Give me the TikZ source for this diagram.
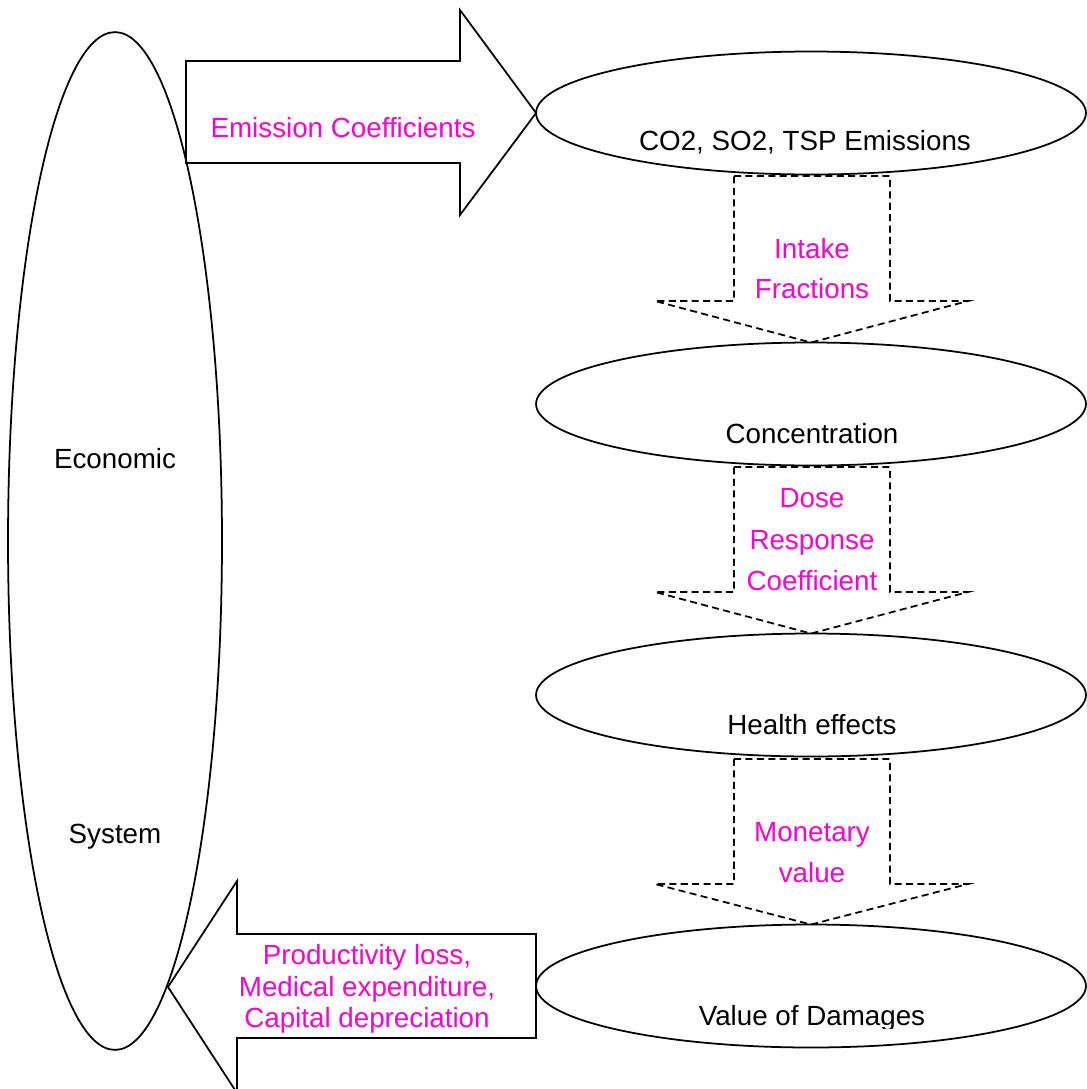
\documentclass[tikz,border=0pt]{standalone}
\usepackage{fontspec}
\setmainfont{Liberation Sans}
\usetikzlibrary{shapes.geometric}
\definecolor{mag}{RGB}{255,0,204}
\begin{document}
\begin{tikzpicture}[x=0.02cm,y=-0.02cm,
  every node/.style={inner sep=0pt,outer sep=0pt},
  txt/.style={font=\fontsize{15.8}{19}\selectfont,anchor=base},
  lbl/.style={txt,text=mag},
  ell/.style={draw,ellipse,line width=1pt,minimum width=11cm,minimum height=2.46cm},
  solidarrow/.style={draw,line width=1pt,line join=miter},
  dasharrow/.style={draw,line width=1pt,dash pattern=on 4pt off 2.5pt,line join=miter}]
\useasboundingbox (0,0) rectangle (1086,1089);

% big left ellipse
\node[ell,minimum width=4.28cm,minimum height=20.36cm] (econ) at (115,541) {};
\node[txt] (economic) at (115,468) {Economic};
\node[txt] (system) at (115,843) {System};

% right ellipses
\node[ell] (e1) at (811,113) {};
\node[ell] (e2) at (811,404) {};
\node[ell] (e3) at (811,695) {};
\node[ell] (e4) at (811,986) {};

\node[txt] (t1) at (805,150) {CO2, SO2, TSP Emissions};
\node[txt] (t2) at (812,443) {Concentration};
\node[txt] (t3) at (812,734) {Health effects};
\begin{scope}
  \clip (600,985) rectangle (1020,1028);
  \node[txt] (t4) at (812,1025) {Value of Damages};
\end{scope}

% top block arrow
\draw[solidarrow] (186,61) -- (460,61) -- (460,10) -- (e1.west) -- (460,215) -- (460,163) -- (186,163) -- cycle;
\node[lbl] (emis) at (343,137) {Emission Coefficients};

% bottom block arrow
\draw[solidarrow] (e4.west |- 0,934) -- (237,934) -- (237,881) -- (168,987) -- (237,1093) -- (237,1038) -- (e4.west |- 0,1038) -- cycle;
\node[lbl] (p1) at (367,964) {Productivity loss,};
\node[lbl] (p2) at (367,996) {Medical expenditure,};
\node[lbl] (p3) at (367,1027) {Capital depreciation};

% dashed down arrows
\draw[dasharrow] (734,176) -- (890,176) -- (890,301) -- (968,301) -- (e2.north) -- (655,301) -- (734,301) -- cycle;
\node[lbl] (i1) at (812,258) {Intake};
\node[lbl] (i2) at (812,298) {Fractions};

\draw[dasharrow] (734,467) -- (890,467) -- (890,592) -- (968,592) -- (e3.north) -- (655,592) -- (734,592) -- cycle;
\node[lbl] (d1) at (812,507) {Dose};
\node[lbl] (d2) at (812,549) {Response};
\node[lbl] (d3) at (812,590) {Coefficient};

\draw[dasharrow] (734,759) -- (890,759) -- (890,884) -- (968,884) -- (e4.north) -- (655,884) -- (734,884) -- cycle;
\node[lbl] (m1) at (812,841) {Monetary};
\node[lbl] (m2) at (812,882) {value};
\end{tikzpicture}
\end{document}
